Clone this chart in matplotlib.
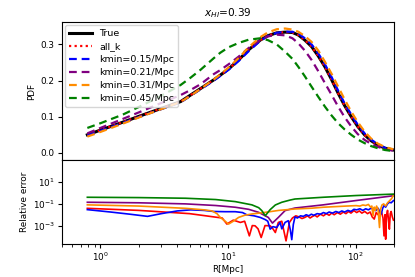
import matplotlib
matplotlib.use("Agg")
import matplotlib.pyplot as plt
import numpy as np
from matplotlib.ticker import NullLocator, FixedLocator

# ---------------- data ----------------
R_top = [0.79, 1.0, 1.5, 2.0, 3.0, 4.26, 5.09, 6.1, 7.74, 8.7, 10.1, 12.1, 14.5,
         17.9, 20.5, 24.1, 28, 32, 35.6, 40, 45.2, 51, 57.5, 65, 73, 82, 92.5,
         104, 117.6, 132, 149, 170, 198]

pdf_true = [0.050, 0.063, 0.085, 0.101, 0.123, 0.142, 0.160, 0.178, 0.202, 0.215,
            0.232, 0.257, 0.285, 0.312, 0.324, 0.332, 0.334, 0.333, 0.326, 0.312,
            0.294, 0.268, 0.238, 0.202, 0.165, 0.131, 0.100, 0.073, 0.050, 0.034,
            0.022, 0.013, 0.008]
pdf_allk = [0.050, 0.063, 0.085, 0.101, 0.123, 0.142, 0.160, 0.178, 0.202, 0.215,
            0.232, 0.257, 0.285, 0.312, 0.324, 0.332, 0.334, 0.333, 0.326, 0.312,
            0.294, 0.268, 0.238, 0.202, 0.165, 0.131, 0.100, 0.073, 0.050, 0.034,
            0.022, 0.013, 0.008]
pdf_k015 = [0.048, 0.061, 0.083, 0.099, 0.121, 0.140, 0.158, 0.176, 0.200, 0.213,
            0.230, 0.254, 0.281, 0.310, 0.323, 0.332, 0.335, 0.335, 0.330, 0.317,
            0.300, 0.275, 0.245, 0.209, 0.172, 0.137, 0.106, 0.078, 0.054, 0.037,
            0.024, 0.014, 0.009]
pdf_k021 = [0.054, 0.069, 0.094, 0.112, 0.138, 0.160, 0.174, 0.190, 0.218, 0.229,
            0.245, 0.266, 0.290, 0.312, 0.322, 0.327, 0.325, 0.317, 0.303, 0.283,
            0.257, 0.226, 0.193, 0.160, 0.128, 0.099, 0.073, 0.052, 0.036, 0.025,
            0.017, 0.010, 0.006]
pdf_k031 = [0.045, 0.058, 0.081, 0.098, 0.121, 0.141, 0.158, 0.177, 0.203, 0.217,
            0.236, 0.262, 0.292, 0.320, 0.333, 0.342, 0.344, 0.341, 0.335, 0.323,
            0.307, 0.283, 0.252, 0.218, 0.183, 0.148, 0.114, 0.085, 0.059, 0.040,
            0.026, 0.016, 0.010]
pdf_k045 = [0.069, 0.082, 0.106, 0.127, 0.158, 0.188, 0.208, 0.230, 0.262, 0.277,
            0.292, 0.304, 0.313, 0.317, 0.312, 0.300, 0.280, 0.260, 0.238, 0.212,
            0.183, 0.155, 0.128, 0.103, 0.082, 0.065, 0.050, 0.037, 0.027, 0.019,
            0.013, 0.008, 0.005]

# relative errors: (R, log10 error) pairs
err_allk = [(0.79, -1.41), (2.0, -1.6), (5.0, -1.9), (7.74, -2.2), (9.0, -2.3), (9.8, -2.86),
            (11.0, -2.5), (12.5, -2.71), (13.5, -2.6), (14.7, -3.95), (15.5, -3.0), (16.3, -3.02),
            (17.2, -3.3), (18.2, -4.1), (19.5, -3.0), (21.4, -3.02), (22.5, -3.3), (23.5, -3.64),
            (24.8, -2.71), (26.4, -2.6), (28.5, -4.41), (30.3, -2.71), (32, -2.3), (34, -2.1),
            (36, -2.2), (38, -2.35), (40, -2.25), (42, -2.1), (44, -2.3), (46, -2.15), (48, -2.05),
            (50, -2.2), (53, -1.95), (56, -2.1), (59, -1.9), (62, -2.05), (65, -1.85), (68, -2.0),
            (72, -1.8), (76, -1.95), (80, -1.75), (84, -1.9), (88, -1.7), (92, -1.85), (97, -1.62),
            (102, -1.8), (107, -1.65), (112, -1.85), (118, -1.7), (124, -1.9), (130, -1.75),
            (135, -2.2), (140, -2.4), (145, -1.8), (150, -2.0), (155, -1.7), (160, -1.8),
            (164, -2.3), (167, -3.95), (170, -2.0), (172, -4.26), (175, -2.0), (178, -1.6),
            (181, -2.4), (184, -3.33), (187, -1.9), (190, -1.7), (194, -2.2), (198, -2.5)]
err_k015 = [(0.79, -1.53), (1.2, -1.75), (1.7, -1.95), (2.34, -2.15), (3.0, -1.9), (4.0, -1.65),
            (5.1, -1.55), (6.5, -1.6), (7.74, -1.7), (9.5, -1.72), (11.4, -1.72), (13.0, -1.8),
            (14.0, -2.0), (16.0, -2.1), (17.9, -2.25), (19.6, -2.45), (20.5, -2.6), (21.4, -3.33),
            (22.5, -3.1), (24.1, -3.18), (25.6, -2.71), (26.4, -3.3), (27.2, -3.0), (28.0, -2.71),
            (29.7, -2.55), (30.8, -3.4), (31.6, -4.3), (32.5, -2.9), (33.5, -2.2), (35, -2.3),
            (37, -2.1), (39, -2.15), (41, -2.0), (43, -2.1), (45, -1.95), (47, -2.05), (50, -1.9),
            (53, -1.95), (56, -1.8), (59, -1.9), (62, -1.75), (66, -1.85), (70, -1.7), (74, -1.8),
            (78, -1.65), (82, -1.75), (87, -1.6), (92, -1.7), (97, -1.5), (102, -1.55), (108, -1.45),
            (114, -1.6), (120, -1.45), (126, -1.55), (132, -1.4), (138, -1.5), (144, -1.62),
            (150, -1.4), (155, -1.7), (159, -1.93), (163, -1.4), (167, -1.16), (172, -1.3),
            (178, -1.0), (184, -0.85), (190, -0.9), (198, -0.7)]
err_k021 = [(0.79, -0.85), (2.0, -0.9), (4.65, -1.0), (8.0, -1.15), (11.4, -1.31), (14.5, -1.5),
            (17.4, -1.78), (20.7, -2.25), (22.3, -2.77), (24.8, -2.25), (28.0, -1.62), (33.5, -1.38),
            (55.7, -1.09), (101, -0.69), (198, -0.25)]
err_k031 = [(0.79, -1.09), (2.0, -1.2), (4.65, -1.41), (6.5, -1.55), (7.5, -1.65), (8.2, -1.9),
            (8.7, -2.25), (9.5, -2.6), (10.1, -2.86), (11.0, -2.6), (12.1, -2.25), (13.5, -2.05),
            (15.4, -1.93), (19.6, -1.78), (25, -1.6), (33.5, -1.47), (45, -1.4), (55.7, -1.31),
            (70, -1.25), (85, -1.2), (101, -1.16), (108, -1.2), (114, -1.1), (120, -1.15),
            (126, -1.05), (131, -1.3), (134, -1.2), (137, -2.09), (140, -1.3), (143, -1.6),
            (146, -1.2), (150, -1.5), (154, -3.18), (157, -1.5), (161, -1.1), (166, -1.0),
            (172, -1.2), (178, -0.9), (185, -0.7), (192, -0.5), (198, -0.2)]
err_k045 = [(0.79, -0.39), (2.0, -0.42), (4.65, -0.48), (8.0, -0.6), (11.4, -0.79), (15.4, -1.09),
            (17.4, -1.35), (18.4, -1.62), (19.6, -2.09), (21.4, -1.53), (23.5, -1.1), (26.4, -0.85),
            (30.6, -0.65), (33.5, -0.55), (55.7, -0.39), (101, -0.23), (198, -0.1)]

labels = ["True", "all_k", "kmin=0.15/Mpc", "kmin=0.21/Mpc", "kmin=0.31/Mpc", "kmin=0.45/Mpc"]
colors = ["black", "red", "blue", "purple", "darkorange", "green"]
title = r"$x_{HI}$=0.39"

# ---------------- figure ----------------
FS = 6.4
plt.rcParams["font.size"] = FS
fig = plt.figure(figsize=(4.15, 2.77), dpi=100)
ax1 = fig.add_axes([0.1494, 0.4206, 0.8, 0.5])
ax2 = fig.add_axes([0.1494, 0.1191, 0.8, 0.3015], sharex=ax1)

pdfs = [pdf_true, pdf_allk, pdf_k015, pdf_k021, pdf_k031, pdf_k045]
for i, (p, c, lab) in enumerate(zip(pdfs, colors, labels)):
    if i == 0:
        ax1.plot(R_top, p, color=c, lw=2.2, label=lab)
    elif i == 1:
        ax1.plot(R_top, p, color=c, lw=1.6, ls=(0, (1, 1.5)), label=lab)
    else:
        ax1.plot(R_top, p, color=c, lw=1.6, ls=(0, (3.5, 2.2)), label=lab)

ax1.set_xscale("log")
ax1.set_xlim(0.5, 200)
ax1.set_ylim(-0.021, 0.362)
ax1.set_yticks([0.0, 0.1, 0.2, 0.3])
ax1.set_ylabel("PDF", fontsize=FS, labelpad=3)
ax1.set_title(title, fontsize=7.6, pad=4)
ax1.tick_params(axis="x", which="both", bottom=False, labelbottom=False)
ax1.tick_params(axis="y", labelsize=FS, length=3, pad=2.5)
ax1.legend(loc="upper left", fontsize=6.8, handlelength=2.4, borderaxespad=0.35,
           labelspacing=0.42, framealpha=0.8)

errs = [err_allk, err_k015, err_k021, err_k031, err_k045]
for e, c in zip(errs, colors[1:]):
    r = [a for a, b in e]
    v = [10.0 ** b for a, b in e]
    ax2.plot(r, v, color=c, lw=1.2)

ax2.set_yscale("log")
ax2.set_ylim(2e-5, 1e3)
ax2.yaxis.set_major_locator(FixedLocator([1e-3, 1e-1, 1e1]))
ax2.yaxis.set_minor_locator(NullLocator())
ax2.set_xlim(0.5, 200)
ax2.set_xlabel("R[Mpc]", fontsize=FS, labelpad=1)
ax2.set_ylabel("Relative error", fontsize=FS, labelpad=3)
ax2.tick_params(axis="both", labelsize=FS, length=3, pad=2)
ax2.tick_params(axis="x", which="minor", length=1.8)

fig.savefig("out.png", dpi=100)
